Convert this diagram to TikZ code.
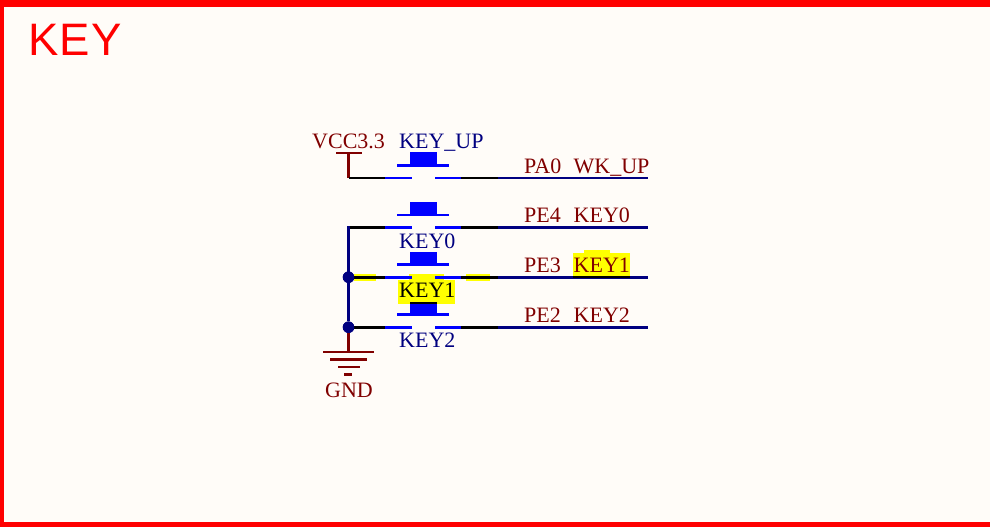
\documentclass[tikz,border=0pt]{standalone}
\usepackage{fontspec}
\setmainfont{Liberation Serif}
\setsansfont{Liberation Sans}
\definecolor{paper}{HTML}{FFFCF8}
\definecolor{frame}{HTML}{FF0000}
\definecolor{netred}{HTML}{800000}
\definecolor{navy}{HTML}{000080}
\definecolor{pure}{HTML}{0000FF}
\definecolor{hl}{HTML}{FFFF00}
\tikzset{
  pinblack/.style={draw=black,line width=2.6pt},
  pinblue/.style={draw=pure,line width=2.6pt},
  wire/.style={draw=navy,line width=2.6pt},
  pwr/.style={draw=netred,line width=2.6pt},
  lab/.style={inner sep=0pt,font=\fontsize{22}{24}\selectfont,anchor=base west},
  netlab/.style={lab,text=netred},
  deslab/.style={lab,text=navy},
  junction/.style={circle,fill=navy,inner sep=0pt,minimum size=11.5pt},
}
\newcommand{\keysym}[2]{%
  \coordinate (#1L) at (385,#2);
  \coordinate (#1La) at (412,#2);
  \coordinate (#1Ra) at (435,#2);
  \coordinate (#1R) at (461,#2);
  \coordinate (#1O) at (498,#2);
  \coordinate (#1E) at (648,#2);
  \draw[pinblue] (#1L) -- (#1La);
  \draw[pinblue] (#1Ra) -- (#1R);
  \draw[pinblack] (#1R) -- (#1O);
  \draw[wire] (#1O) -- (#1E);
  \draw[pinblue] (397,#2-12.5) -- (449,#2-12.5);
  \fill[pure] (410,#2-25.5) rectangle (437,#2-12.5);
}
\begin{document}
\begin{tikzpicture}[x=1pt,y=-1pt]
\useasboundingbox (0,0) rectangle (990,527);
\fill[paper] (0,0) rectangle (990,527);
\fill[frame] (0,0) rectangle (990,7);
\fill[frame] (0,0) rectangle (4,527);
\fill[frame] (0,522) rectangle (990,527);
\node[inner sep=0pt,anchor=base west,text=frame,font=\sffamily\fontsize{45.5}{48}\selectfont\addfontfeature{LetterSpace=3}] (title) at (28,56) {KEY};

% highlights
\fill[hl] (354,274) rectangle (376,280.5);
\fill[hl] (466,274) rectangle (490,280.5);
\fill[hl] (409,274) rectangle (444,281);
\fill[hl] (398,280) rectangle (455,303.5);
\fill[hl] (573,253) rectangle (630,278);
\fill[hl] (584,250) rectangle (609.5,253.5);

\keysym{a}{177.8}
\keysym{b}{227.4}
\keysym{c}{277.2}
\keysym{d}{327.2}

% left wires
\coordinate (vcctop) at (348.5,153);
\coordinate (ca) at (348.5,177.8);
\coordinate (cb) at (348.5,227.4);
\node[junction] (j1) at (348.5,277.2) {};
\node[junction] (j2) at (348.5,327.2) {};
\coordinate (gndtop) at (348.5,352);

\draw[pwr] (vcctop) -- (ca);
\draw[pwr] (336,153) -- (362,153);
\draw[pwr] (j2) -- (gndtop);
\draw[pwr] (323,352) -- (374,352);
\draw[pwr] (330,359.5) -- (367,359.5);
\draw[pwr] (338,367) -- (360,367);
\draw[pwr] (344,374.5) -- (352,374.5);

\draw[pinblack] (ca) -- (aL);
\draw[pinblack] (cb) -- (bL);
\draw[pinblack] (j1) -- (cL);
\draw[pinblack] (j2) -- (dL);
\draw[wire,line cap=rect] (cb) -- (j1);
\draw[wire] (j1) -- (j2);
\node[junction] at (j1) {};
\node[junction] at (j2) {};

% black highlight traces
\draw[draw=black,line width=2pt] (410,302.5) -- (437,302.5);
\draw[draw=black,line width=2.4pt] (573,277.2) -- (630,277.2);

% labels
\node[netlab] (vcc) at (312,148) {VCC3.3};
\node[deslab] (k0) at (399,148) {KEY\_UP};
\node[deslab] (k1) at (399,248.3) {KEY0};
\node[lab,text=black] (k2) at (399,297.5) {KEY1};
\node[deslab] (k3) at (399,347.3) {KEY2};
\node[netlab] (gnd) at (325,397) {GND};
\node[netlab] (p0) at (524,173.3) {PA0};
\node[netlab] (p1) at (524,222.8) {PE4};
\node[netlab] (p2) at (524,272.3) {PE3};
\node[netlab] (p3) at (524,322.3) {PE2};
\node[netlab] (n0) at (573.5,173.3) {WK\_UP};
\node[netlab] (n1) at (573.5,222.8) {KEY0};
\node[netlab] (n2) at (573.5,272.3) {KEY1};
\node[netlab] (n3) at (573.5,322.3) {KEY2};
\end{tikzpicture}
\end{document}
